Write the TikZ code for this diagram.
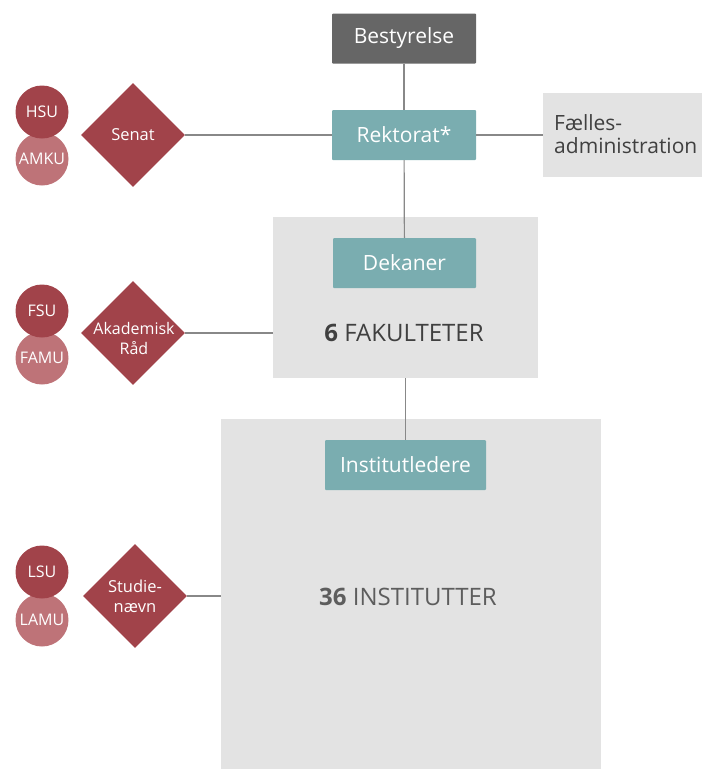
\documentclass[tikz,border=0pt]{standalone}
\usepackage{fontspec}
\setmainfont{Open Sans}
\usetikzlibrary{shapes.geometric}
\definecolor{boardgrey}{HTML}{666666}
\definecolor{leadteal}{HTML}{7AADB0}
\definecolor{unitgrey}{HTML}{E3E3E3}
\definecolor{linegrey}{HTML}{888888}
\definecolor{councilred}{HTML}{A1434A}
\definecolor{councilpink}{HTML}{BE7378}
\definecolor{unittext}{HTML}{404040}
\begin{document}
\begin{tikzpicture}[x=1pt,y=-1pt,
    leadbox/.style={fill=leadteal, text=white, minimum width=144pt, minimum height=50pt,
      inner sep=0pt, rounded corners=1pt, font=\fontsize{21}{24}\selectfont},
    unitbox/.style={fill=unitgrey, inner sep=0pt},
    council/.style={diamond, fill=councilred, text=white, minimum width=104pt,
      minimum height=104pt, inner xsep=-14pt, inner ysep=-10pt, align=center,
      font=\fontsize{16.5}{20}\selectfont},
    counciltext/.style={text=white, inner sep=0pt, align=center,
      font=\fontsize{16}{20}\selectfont},
    envoy/.style={circle, fill=councilred, text=white, minimum size=53pt, inner sep=0pt,
      font=\fontsize{16}{18}\selectfont},
    envoylight/.style={envoy, fill=councilpink},
    link/.style={draw=linegrey, line width=1.2pt}]
  \useasboundingbox (0,0) rectangle (702,769);
  % enheder
  \node[unitbox, minimum width=159pt, minimum height=84pt] (faelles) at (622.5,135) {};
  \node[unitbox, minimum width=265pt, minimum height=161pt] (fak) at (405.5,297.5) {};
  \node[unitbox, minimum width=380pt, minimum height=350pt] (inst) at (411,594) {};
  \node[anchor=west, text=unittext, align=left, inner sep=0pt,
    font=\fontsize{21}{23}\selectfont] (faellestxt) at (554,134) {Fælles-\\administration};
  \node[text=unittext, font=\fontsize{24}{28}\selectfont] (faktxt) at (404,333) {\textbf{6} FAKULTETER};
  \node[text=unittext!85!white, font=\fontsize{24}{28}\selectfont] (insttxt) at (408,597) {\textbf{36} INSTITUTTER};
  % ledelse
  \node[leadbox, fill=boardgrey] (best) at (404,38.5) {Bestyrelse};
  \node[leadbox] (rekt) at (404,135) {Rektorat*};
  \node[leadbox, minimum width=143pt] (dek) at (404.5,263) {Dekaner};
  \node[leadbox, minimum width=161pt] (instl) at (405.5,465) {Institutledere};
  % raad og udvalg
  \node[council] (senat) at (133,135) {Senat};
  \node[council] (akad) at (133,333) {};
  \node[counciltext] (akadtxt) at (134,338) {Akademisk\\Råd};
  \node[council] (stud) at (135,596) {Studie-\\nævn};
  \node[envoylight] (amku) at (42,159) {AMKU};
  \node[envoy] (hsu) at (42,112) {HSU};
  \node[envoylight] (famu) at (42,358) {FAMU};
  \node[envoy] (fsu) at (42,311) {FSU};
  \node[envoylight] (lamu) at (42,620) {LAMU};
  \node[envoy] (lsu) at (42,572) {LSU};
  % forbindelser
  \draw[link] (best) -- (rekt);
  \draw[link] (senat.east) -- (rekt.west);
  \draw[link] (rekt.east) -- (faelles.west);
  \draw[link] (rekt) -- (dek);
  \draw[link] (akad.east) -- (akad.east -| fak.west);
  \draw[link] (fak.south -| instl.north) -- (instl.north);
  \draw[link] (stud.east) -- (stud.east -| inst.west);
\end{tikzpicture}
\end{document}
